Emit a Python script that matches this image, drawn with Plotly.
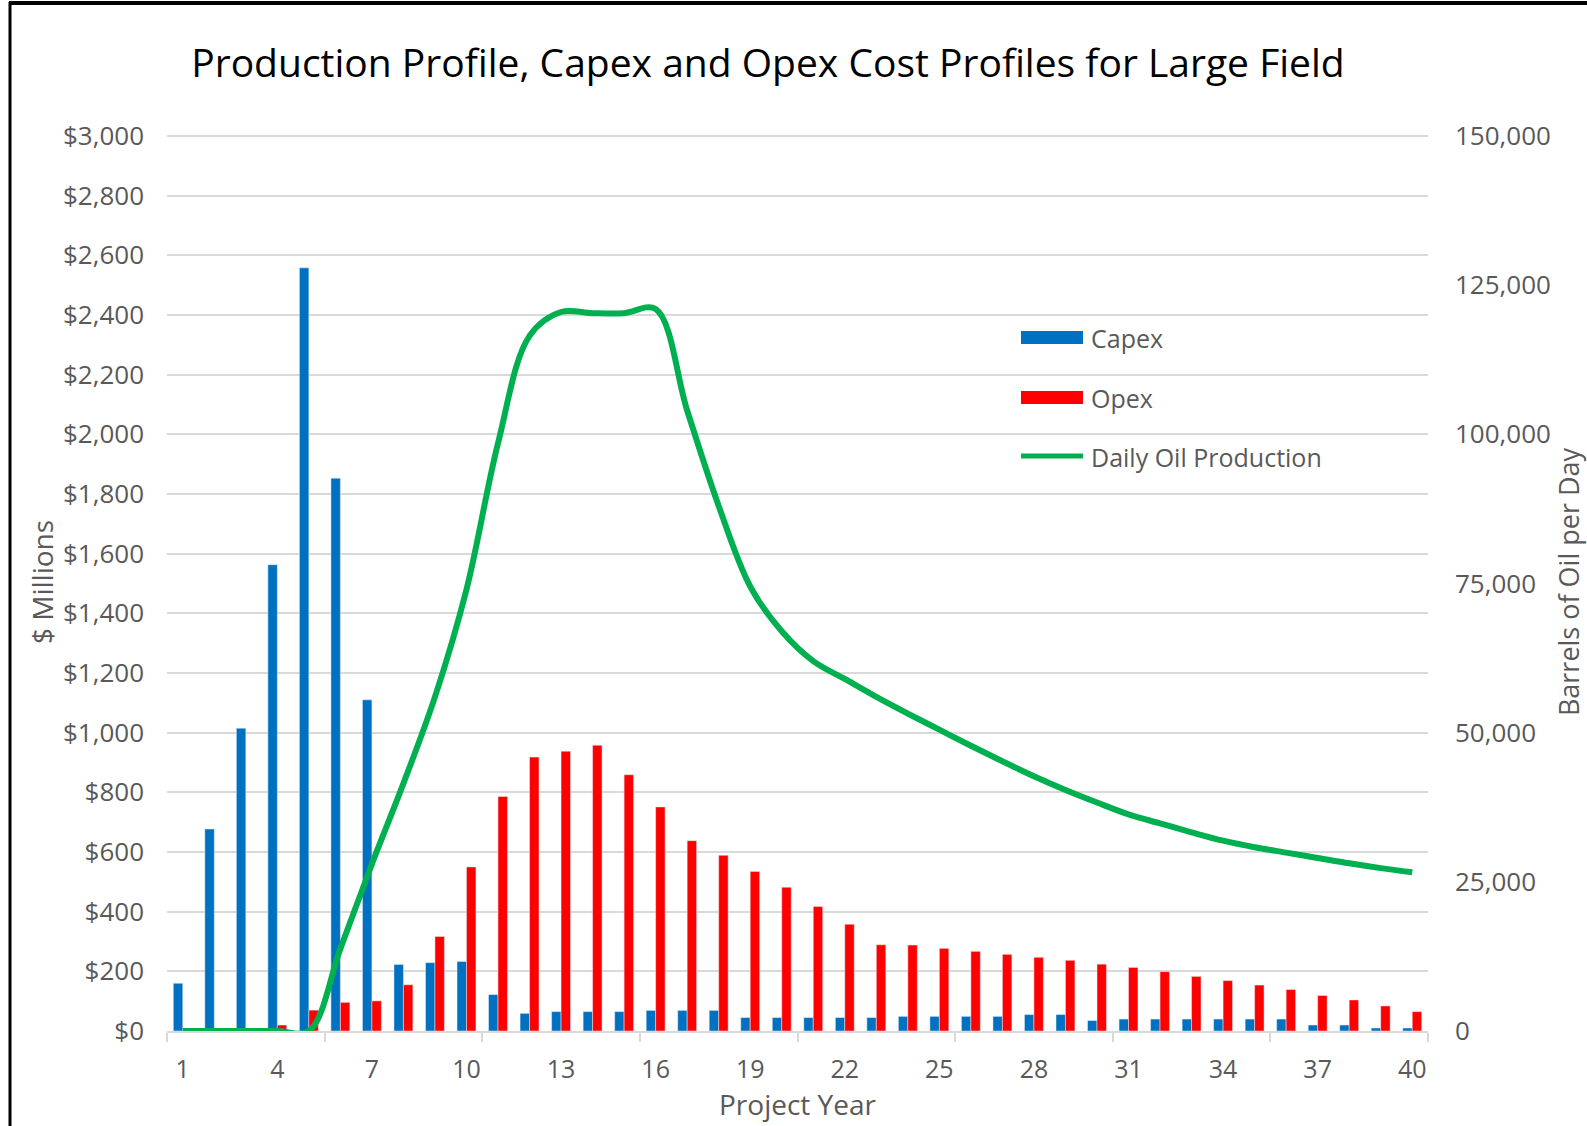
import plotly.graph_objects as go

# ── data ────────────────────────────────────────────────────
years = list(range(1, 41))

capex = [160, 677, 1015, 1563, 2558, 1853, 1110, 223, 229, 233,
         122, 59, 65, 65, 65, 69, 69, 69, 45, 45,
         45, 45, 45, 49, 49, 49, 49, 55, 55, 35,
         40, 40, 40, 40, 40, 40, 20, 20, 10, 10]

opex = [0, 5, 10, 20, 70, 96, 101, 155, 317, 550,
        786, 918, 938, 958, 859, 751, 638, 589, 535, 482,
        417, 358, 289, 288, 277, 267, 257, 247, 237, 224,
        213, 199, 183, 169, 154, 139, 119, 104, 84, 65]

oil_bpd = [0, 0, 0, 0, 0, 13800, 28000, 41500, 56000, 74000,
           98500, 116500, 120500, 120300, 120300, 121000, 104000, 88000, 74500, 67000,
           62000, 59000, 56000, 53200, 50500, 47800, 45200, 42700, 40400, 38300,
           36300, 34800, 33300, 31900, 30800, 29900, 29000, 28100, 27300, 26600]

x_ticks = list(range(1, 41, 3))

legend_items = ["Capex", "Opex", "Daily Oil Production"]

# ── canvas geometry (pixels) ────────────────────────────────
W, H = 1587, 1126
PL, PR, PT, PB = 167, 1428, 133, 1031   # plot area edges ($3,000 sits at y=136)
Y_TOP = 3010                             # small headroom so the $3,000 gridline shows


def px2x(px):
    return (px - PL) / (PR - PL)


def py2y(py):
    return (PB - py) / (PB - PT)


BLUE = "#0070C0"
RED = "#FF0000"
GREEN = "#00B050"
GRID = "#D9D9D9"
GREY = "#595959"

fig = go.Figure()

fig.add_trace(go.Bar(x=years, y=capex, name="Capex", marker_color=BLUE,
                     showlegend=False))
fig.add_trace(go.Bar(x=years, y=opex, name="Opex", marker_color=RED,
                     showlegend=False))
fig.add_trace(go.Scatter(x=years, y=oil_bpd, name="Daily Oil Production",
                         yaxis="y2", mode="lines",
                         line=dict(color=GREEN, width=6, shape="spline", smoothing=1),
                         showlegend=False))

# ── hand-made legend (wide swatches like Excel) ─────────────
shapes = [
    dict(type="rect", xref="paper", yref="paper",
         x0=px2x(1021), x1=px2x(1083), y0=py2y(344), y1=py2y(331),
         fillcolor=BLUE, line_width=0),
    dict(type="rect", xref="paper", yref="paper",
         x0=px2x(1021), x1=px2x(1083), y0=py2y(404), y1=py2y(391),
         fillcolor=RED, line_width=0),
    dict(type="line", xref="paper", yref="paper",
         x0=px2x(1021), x1=px2x(1083), y0=py2y(456), y1=py2y(456),
         line=dict(color=GREEN, width=5)),
    # black frame on left and top
    dict(type="line", xref="paper", yref="paper",
         x0=px2x(10), x1=px2x(10), y0=py2y(2), y1=py2y(H + 5),
         line=dict(color="black", width=3)),
    dict(type="line", xref="paper", yref="paper",
         x0=px2x(9), x1=px2x(W + 5), y0=py2y(3), y1=py2y(3),
         line=dict(color="black", width=4)),
]

annotations = []
for label, py in zip(legend_items, [338, 398, 457]):
    annotations.append(dict(
        text=label, xref="paper", yref="paper",
        x=px2x(1089), y=py2y(py), xanchor="left", yanchor="middle",
        showarrow=False, font=dict(family="Open Sans", size=25, color=GREY),
    ))

fig.update_layout(
    width=W, height=H, autosize=False,
    margin=dict(l=PL, r=W - PR, t=PT, b=H - PB),
    paper_bgcolor="white", plot_bgcolor="white",
    barmode="group", bargap=0.4, bargroupgap=0,
    title=dict(text="Production Profile, Capex and Opex Cost Profiles for Large Field",
               x=768 / W, xanchor="center", y=1 - 63 / H, yanchor="middle",
               font=dict(family="Open Sans", size=39, color="black")),
    shapes=shapes,
    annotations=annotations,
    font=dict(family="Open Sans", color=GREY),
    xaxis=dict(
        range=[0.5, 40.5], tickmode="array", tickvals=x_ticks,
        ticks="", showgrid=False, zeroline=False,
        showline=True, linecolor=GRID, linewidth=1.5,
        tickfont=dict(size=25, color=GREY), ticklabelstandoff=15,
        minor=dict(tick0=0.5, dtick=5, ticks="outside", ticklen=9,
                   tickcolor=GRID, tickwidth=1.5, showgrid=False),
        title=dict(text="Project Year", font=dict(size=28, color=GREY), standoff=6),
    ),
    yaxis=dict(
        range=[0, Y_TOP], tickmode="linear", tick0=0, dtick=200,
        tickprefix="$", tickformat=",",
        showgrid=True, gridcolor=GRID, gridwidth=1.5, zeroline=False,
        showline=False, ticks="", ticklabelstandoff=22,
        tickfont=dict(size=26, color=GREY),
        title=dict(text="$ Millions", font=dict(size=28, color=GREY), standoff=1),
    ),
    yaxis2=dict(
        range=[0, Y_TOP * 50], tickmode="linear", tick0=0, dtick=25000, tickformat=",",
        overlaying="y", side="right", showgrid=False, zeroline=False,
        showline=False, ticks="", ticklabelstandoff=26,
        tickfont=dict(size=26, color=GREY),
        title=dict(text="Barrels of Oil per Day", font=dict(size=27, color=GREY), standoff=6),
    ),
)

fig.write_html("out.html", config={"displayModeBar": False},
               post_script="document.body.style.margin='0';")
